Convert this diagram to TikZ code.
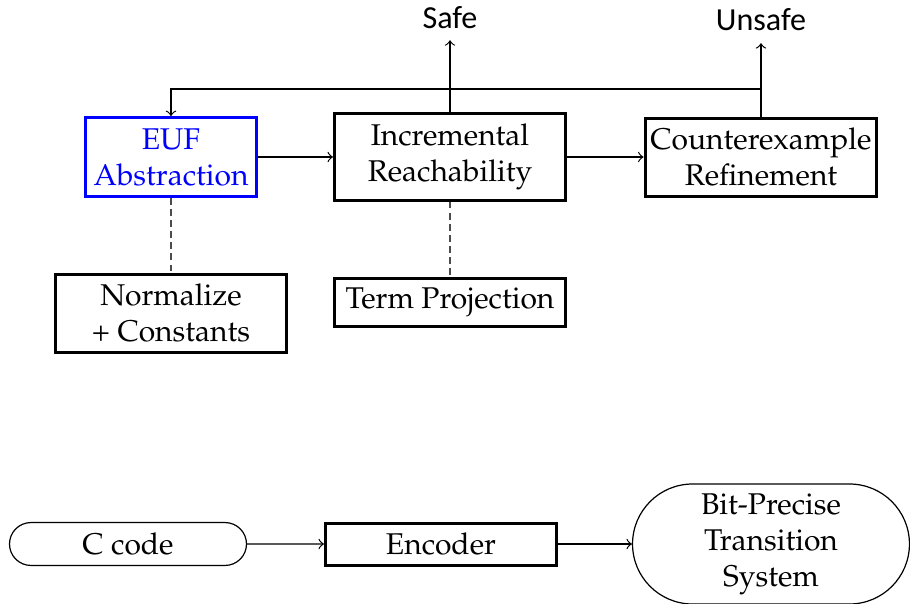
\documentclass[tikz,border=0pt]{standalone}
\usepackage{fontspec}
\newfontfamily\calib{Carlito}
\usepackage[T1]{fontenc}
\usepackage{mathpazo}
\usetikzlibrary{shapes.misc}
\begin{document}
\begin{tikzpicture}[x=0.33333pt,y=-0.33333pt,
  box/.style={draw,line width=1pt,align=center,inner sep=0pt},
  term/.style={draw,rounded rectangle,align=center,inner sep=0pt,line width=0.4pt},
  conn/.style={->,line width=0.4pt},
  dashedlink/.style={line width=0.4pt,draw=black!70,dash pattern=on 2.3pt off 1.4pt},
  outlabel/.style={font=\calib\fontsize{10.7}{12}\selectfont,inner sep=0pt}]
\useasboundingbox (0,0) rectangle (910,604);
% top row
\node[box,draw=blue,text=blue,minimum width=57pt,minimum height=26.3pt] (euf) at (171,157) {EUF\\Abstraction};
\node[box,minimum width=77pt,minimum height=28.7pt] (ir) at (450,157) {Incremental\\Reachability};
\node[box,minimum width=77.3pt,minimum height=26pt] (cr) at (761,157) {Counterexample\\Refinement};
\node[box,minimum width=77.3pt,minimum height=26pt] (norm) at (171,313) {Normalize\\+ Constants};
\node[box,minimum width=77pt,minimum height=16pt] (tp) at (450,302) {Term Projection};
\node[outlabel] (safe) at (450,18) {Safe};
\node[outlabel] (unsafe) at (761,20) {Unsafe};
\coordinate (fb) at (761,89);
\draw[conn] (euf) -- (ir);
\draw[conn] (ir) -- (cr);
\draw[conn,shorten >=3.5pt] (ir.north) -- (safe.south);
\draw[conn,shorten >=3.8pt] (cr.north) -- (unsafe.south);
\draw[conn] (fb) -| (euf.north);
\draw[dashedlink] (euf) -- (norm);
\draw[dashedlink] (ir) -- (tp);
% bottom row
\node[term,minimum width=79pt,minimum height=14.3pt] (ccode) at (128,544) {C code};
\node[box,minimum width=77pt,minimum height=14pt] (enc) at (441,544) {Encoder};
\node[term,minimum width=92.3pt,minimum height=40pt] (bps) at (771,544) {Bit-Precise\\Transition\\System};
\draw[conn] (ccode) -- (enc);
\draw[conn] (enc) -- (bps);
\end{tikzpicture}
\end{document}
